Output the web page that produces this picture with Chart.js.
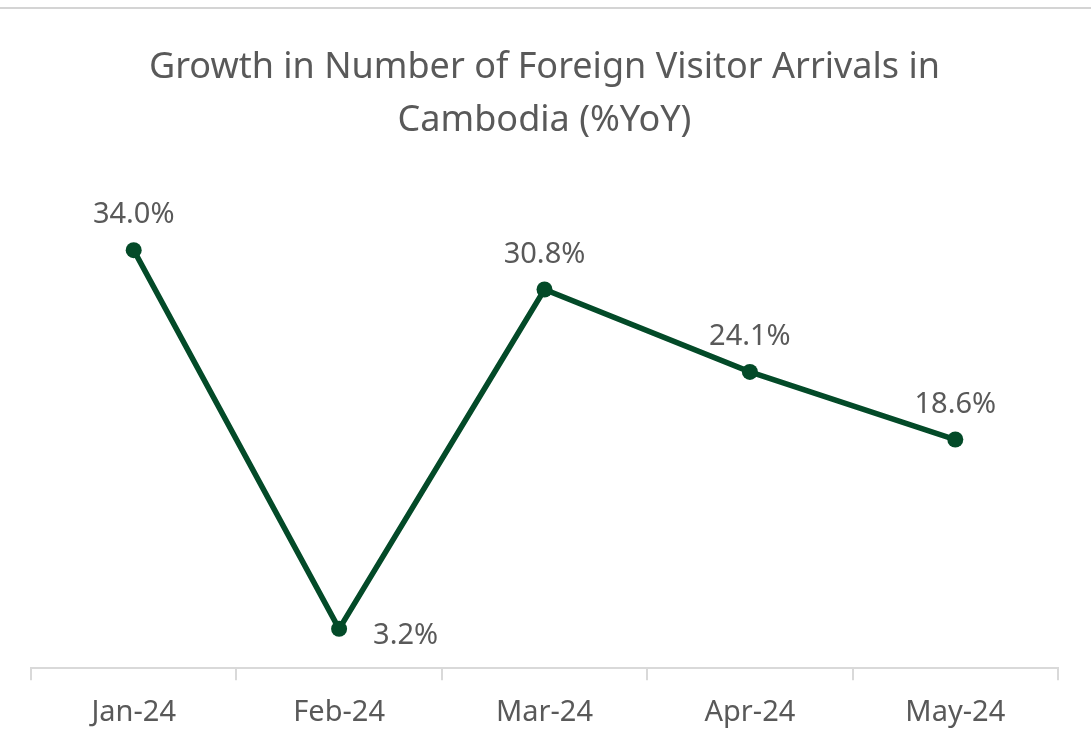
<!DOCTYPE html>
<html lang="en">
<head>
<meta charset="UTF-8"/>
<title>Growth in Number of Foreign Visitor Arrivals in Cambodia</title>
<script src="https://cdn.jsdelivr.net/npm/chart.js@4/dist/chart.umd.min.js"></script>
<style>
  *{box-sizing:border-box;margin:0;padding:0}
  html,body{width:1091px;height:751px;background:#fff;overflow:hidden}
  .frame{position:absolute;left:0;top:7px;width:1091px;border-top:2px solid #d4d4d4}
  .wrap{position:absolute;left:0;top:0;width:1091px;height:751px}
</style>
</head>
<body>
<div class="frame"></div>
<div class="wrap"><canvas id="chart"></canvas></div>
<script>
const months = ['Jan-24', 'Feb-24', 'Mar-24', 'Apr-24', 'May-24'];
const growthYoY = [34.0, 3.2, 30.8, 24.1, 18.6];
// where each value label sits relative to its point
const labelSide = ['top', 'right', 'top', 'top', 'top'];

const GREEN = '#034a28';
const GREY = '#595959';
const FONT = '"Noto Sans", "Open Sans", sans-serif';

// value labels next to each point
const valueLabels = {
  id: 'valueLabels',
  afterDatasetsDraw(chart) {
    const { ctx } = chart;
    const meta = chart.getDatasetMeta(0);
    ctx.save();
    ctx.font = `29px ${FONT}`;
    ctx.fillStyle = GREY;
    ctx.textBaseline = 'middle';
    meta.data.forEach((pt, i) => {
      const text = growthYoY[i].toFixed(1) + '%';
      if (labelSide[i] === 'right') {
        ctx.textAlign = 'left';
        ctx.fillText(text, pt.x + 34, pt.y + 7);
      } else {
        ctx.textAlign = 'center';
        ctx.fillText(text, pt.x, pt.y - 35);
      }
    });
    ctx.restore();
  }
};

new Chart(document.getElementById('chart'), {
  type: 'line',
  data: {
    labels: months,
    datasets: [{
      data: growthYoY,
      borderColor: GREEN,
      backgroundColor: GREEN,
      borderWidth: 5.5,
      pointRadius: 8,
      pointHoverRadius: 8,
      pointBackgroundColor: GREEN,
      pointBorderWidth: 0,
      tension: 0
    }]
  },
  options: {
    responsive: true,
    maintainAspectRatio: false,
    animation: false,
    layout: { padding: { left: 31, right: 33, top: 42, bottom: 6 } },
    plugins: {
      legend: { display: false },
      tooltip: { enabled: false },
      title: {
        display: true,
        text: ['Growth in Number of Foreign Visitor Arrivals in', 'Cambodia (%YoY)'],
        color: GREY,
        font: { family: FONT, size: 36, weight: 'normal', lineHeight: 1.45 },
        padding: { top: 0, bottom: 30 }
      }
    },
    scales: {
      x: {
        offset: true,
        grid: {
          offset: true,
          drawOnChartArea: false,
          drawTicks: true,
          tickLength: 12,
          color: '#d9d9d9',
          lineWidth: 2
        },
        border: { color: '#d9d9d9', width: 2 },
        ticks: {
          color: GREY,
          font: { family: FONT, size: 29 },
          padding: 15
        }
      },
      y: {
        display: false,
        min: 0,
        max: 40
      }
    }
  },
  plugins: [valueLabels]
});
</script>
</body>
</html>
